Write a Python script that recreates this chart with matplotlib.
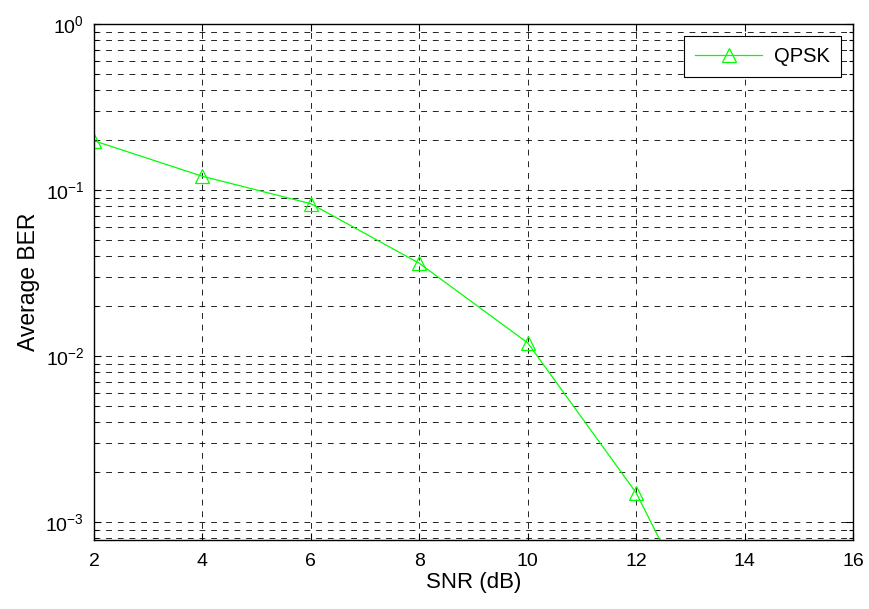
import matplotlib
matplotlib.use('Agg')
import matplotlib.pyplot as plt
from matplotlib.ticker import LogLocator, FixedLocator
import numpy as np

plt.rcParams['font.family'] = ['Liberation Sans', 'DejaVu Sans']
plt.rcParams['mathtext.fontset'] = 'custom'
plt.rcParams['mathtext.rm'] = 'Liberation Sans'
plt.rcParams['mathtext.it'] = 'Liberation Sans'
plt.rcParams['mathtext.default'] = 'regular'

# data
snr_db = [2, 4, 6, 8, 10, 12, 14]
ber_qpsk = [0.198, 0.121, 0.0827, 0.0362, 0.0120, 0.00150, 0.000076]

x_ticks = [2, 4, 6, 8, 10, 12, 14, 16]

fig = plt.figure(figsize=(8.7, 6.09), dpi=100)
ax = fig.add_axes([0.108, 0.1133, 0.8725, 0.8473])

ax.semilogy(snr_db, ber_qpsk, color=(0, 1, 0), lw=0.9, marker='^',
            ms=10, mfc='none', mec=(0, 1, 0), mew=0.9, label='QPSK')

ax.set_xlim(2, 16)
ax.set_ylim(7.8e-4, 1)
ax.xaxis.set_major_locator(FixedLocator(x_ticks))
ax.yaxis.set_major_locator(LogLocator(base=10, numticks=10))
ax.yaxis.set_minor_locator(LogLocator(base=10, subs=np.arange(2, 10), numticks=20))

dash = (0, (7, 7))
ax.grid(True, which='major', color='black', lw=0.6, linestyle=dash)
ax.grid(True, which='minor', axis='y', color='black', lw=0.6, linestyle=dash)

ax.tick_params(which='both', direction='in', top=True, right=True,
               labelsize=14, width=0.8, pad=7)
ax.tick_params(axis='x', pad=9)
ax.tick_params(which='major', length=5)
ax.tick_params(which='minor', length=3)
for s in ax.spines.values():
    s.set_linewidth(1.0)

ax.set_xlabel('SNR (dB)', fontsize=16, labelpad=2)
ax.set_ylabel('Average BER', fontsize=16.5, labelpad=4)

leg = ax.legend(loc='upper right', fontsize=14.5, fancybox=False,
                framealpha=1, edgecolor='black', borderaxespad=0.6,
                handlelength=3.3, borderpad=0.55, handletextpad=0.6)
leg.get_frame().set_linewidth(0.8)

fig.savefig('out.png', dpi=100)
